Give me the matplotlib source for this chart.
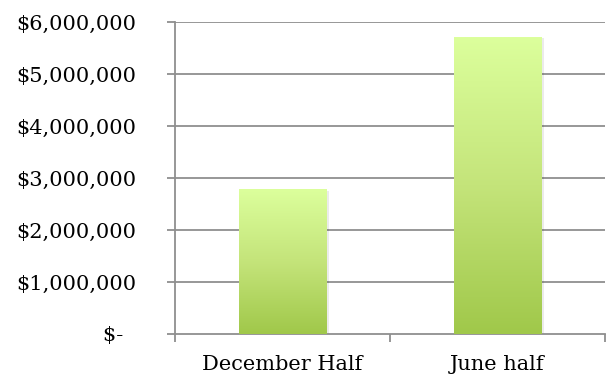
import numpy as np
import matplotlib.pyplot as plt
from matplotlib.colors import LinearSegmentedColormap
from matplotlib.ticker import FuncFormatter

categories = ['December Half', 'June half']
values = [2770000, 5710000]
yticks = [0, 1000000, 2000000, 3000000, 4000000, 5000000, 6000000]

plt.rcParams['font.family'] = ['DejaVu Serif']

fig = plt.figure(figsize=(6.13, 3.83), dpi=100)
ax = fig.add_axes([175 / 613, 1 - 334 / 383, 430 / 613, 312 / 383])

x = np.arange(len(categories))
width = 0.405
grey = '#8f8f8f'

for yv in yticks[1:]:
    ax.axhline(yv, color=grey, lw=1.3, zorder=1)

green = LinearSegmentedColormap.from_list('g', ['#a0c84a', '#c4e47a', '#dcff9c'])
grad = np.linspace(0, 1, 256).reshape(-1, 1)
bars = ax.bar(x, values, width=width, color='none', zorder=2)
for b in bars:
    x0, y0 = b.get_x(), b.get_y()
    w, h = b.get_width(), b.get_height()
    # soft shadow
    ax.bar(x0 + w / 2 + 0.012, h, width=w, bottom=y0 - 20000, color='#000000',
           alpha=0.08, zorder=2, linewidth=0)
    ax.imshow(grad, extent=[x0, x0 + w, y0, y0 + h], origin='lower',
              cmap=green, aspect='auto', zorder=3)

ax.set_xlim(-0.5, 1.5)
ax.set_ylim(0, 6000000)
ax.set_yticks(yticks)
ax.yaxis.set_major_formatter(FuncFormatter(lambda v, p: '$-  ' if v == 0 else '${:,.0f}'.format(v)))
ax.set_xticks(x)
ax.set_xticklabels(categories)
ax.set_xticks([-0.5, 0.5, 1.5], minor=True)
ax.tick_params(axis='x', which='major', length=0, pad=15, labelsize=15)
ax.tick_params(axis='x', which='minor', length=6, width=1.3, color=grey)
ax.tick_params(axis='y', length=6, width=1.3, color=grey, labelsize=15, pad=22)

for s in ['top', 'right']:
    ax.spines[s].set_visible(False)
for s in ['left', 'bottom']:
    ax.spines[s].set_color(grey)
    ax.spines[s].set_linewidth(1.3)

fig.savefig('out.png', dpi=100)
